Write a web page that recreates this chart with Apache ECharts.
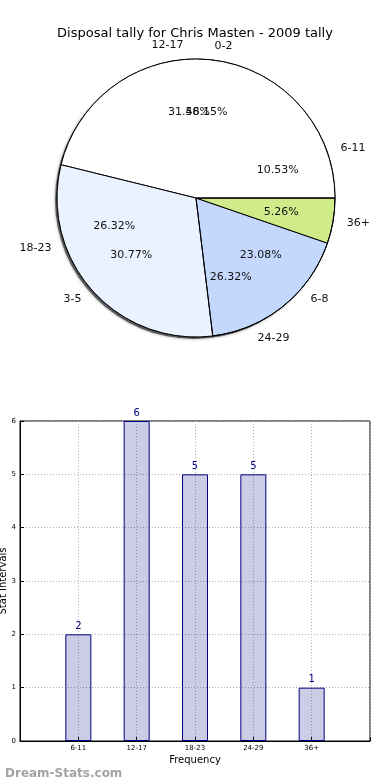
<!DOCTYPE html>
<html>
<head>
<meta charset="utf-8">
<script src="https://cdn.jsdelivr.net/npm/echarts@6/dist/echarts.min.js"></script>
<style>html,body{margin:0;padding:0;background:#fff}#c{width:390px;height:780px}</style>
</head>
<body>
<div id="c"></div>
<script>
// ---- data ----
const titleText = 'Disposal tally for Chris Masten - 2009 tally';
const statCategories = ['6-11', '12-17', '18-23', '24-29', '36+'];
const statCounts = [2, 6, 5, 5, 1];
const ageCategories = ['0-2', '3-5', '6-8'];
const ageCounts = [6, 4, 3];
const yTicks = [0, 1, 2, 3, 4, 5, 6];

// ---- styles ----
const FONT = 'DejaVu Sans';
const statColors = ['#ffffff', '#ffffff', '#c2d8ff', '#c4d8fd', '#d0eb8a'];
const ageColors = ['#ffffff', '#ebf2ff', 'rgba(255,255,255,0)'];
const C = [196, 198];
const R = 139;

const sum = a => a.reduce((s, v) => s + v, 0);
function pieData(names, vals, colors) {
  return names.map((n, i) => ({ name: n, value: vals[i], itemStyle: { color: colors[i] } }));
}
const nameLabel = { show: true, position: 'outside', formatter: '{b}', fontFamily: FONT, fontSize: 11, color: '#111', distanceToLabelLine: 0 };
const nameLine = { show: false, length: R * 0.1, length2: 0 };
const pctLabelSeries = (names, vals, z) => {
  const tot = sum(vals);
  return {
    type: 'pie', center: C, radius: [0, R * 1.2], startAngle: 0, clockwise: false, silent: true, z: z,
    avoidLabelOverlap: false,
    labelLayout: { hideOverlap: false },
    data: names.map((n, i) => ({ name: n, value: vals[i] })),
    itemStyle: { color: 'rgba(0,0,0,0)', borderWidth: 0 },
    label: { show: true, position: 'inside', formatter: p => (p.value / tot * 100).toFixed(2) + '%', fontFamily: FONT, fontSize: 11, color: '#111' },
    labelLine: { show: false },
    emphasis: { disabled: true }
  };
};

const chart = echarts.init(document.getElementById('c'), null, { renderer: 'canvas' });
chart.setOption({
  animation: false,
  backgroundColor: '#fff',
  title: [
    { text: titleText, left: 'center', top: 22, textStyle: { fontFamily: FONT, fontSize: 13, fontWeight: 'normal', color: '#000' } },
    { text: 'Dream-Stats.com', left: 0, top: 763, textStyle: { fontFamily: FONT, fontSize: 12, fontWeight: 'bold', color: '#a3a3a3' } }
  ],
  grid: { left: 20, right: 20, top: 421, bottom: 39, outerBoundsMode: 'none', containLabel: false, show: true, borderColor: '#000', borderWidth: 1, backgroundColor: 'transparent' },
  xAxis: {
    type: 'category', boundaryGap: false,
    data: [''].concat(statCategories, ['']),
    name: 'Frequency', nameLocation: 'middle', nameGap: 14, nameMoveOverlap: false,
    nameTextStyle: { fontFamily: FONT, fontSize: 10, color: '#000' },
    axisLine: { lineStyle: { color: '#000' } },
    axisTick: { inside: true, length: 4, lineStyle: { color: '#000' } },
    axisLabel: { fontFamily: FONT, fontSize: 7, color: '#000', margin: 4, interval: 0 },
    splitLine: { show: true, lineStyle: { color: '#b0b0b0', type: [1, 2] } }
  },
  yAxis: {
    type: 'value', min: yTicks[0], max: yTicks[yTicks.length - 1], interval: 1,
    name: 'Stat Intervals', nameLocation: 'middle', nameGap: 12, nameMoveOverlap: false,
    nameTextStyle: { fontFamily: FONT, fontSize: 10, color: '#000' },
    axisLine: { show: true, lineStyle: { color: '#000' } },
    axisTick: { show: true, inside: true, length: 4, lineStyle: { color: '#000' } },
    axisLabel: { fontFamily: FONT, fontSize: 7, color: '#000', margin: 4 },
    splitLine: { show: true, lineStyle: { color: '#b0b0b0', type: [1, 2] } }
  },
  series: [
    {
      type: 'bar', barWidth: 26,
      data: ['-'].concat(statCounts, ['-']),
      itemStyle: { color: 'rgba(0,0,128,0.2)', borderColor: '#000080', borderWidth: 1 },
      label: { show: true, position: 'top', distance: 3, fontFamily: FONT, fontSize: 10, color: '#000080' }
    },
    {
      // drop shadow behind the pies
      type: 'pie', center: [C[0] - 2, C[1] + 2], radius: [0, R], startAngle: 0, clockwise: false, z: 1, silent: true,
      data: [{ name: 'shadow', value: sum(statCounts) }],
      itemStyle: { color: 'rgba(60,60,60,0.75)', borderWidth: 0, shadowColor: 'rgba(0,0,0,0.5)', shadowBlur: 3 },
      label: { show: false }, labelLine: { show: false },
      emphasis: { disabled: true }
    },
    {
      type: 'pie', center: C, radius: [0, R], startAngle: 0, clockwise: false, z: 2,
      avoidLabelOverlap: false,
      labelLayout: { hideOverlap: false },
      data: pieData(statCategories, statCounts, statColors),
      itemStyle: { borderColor: '#000', borderWidth: 1 },
      label: nameLabel, labelLine: nameLine,
      emphasis: { disabled: true }
    },
    {
      type: 'pie', center: C, radius: [0, R], startAngle: 0, clockwise: false, z: 3,
      avoidLabelOverlap: false,
      labelLayout: { hideOverlap: false },
      data: pieData(ageCategories, ageCounts, ageColors),
      itemStyle: { borderColor: '#000', borderWidth: 1 },
      label: nameLabel, labelLine: nameLine,
      emphasis: { disabled: true }
    },
    pctLabelSeries(statCategories, statCounts, 4),
    pctLabelSeries(ageCategories, ageCounts, 5)
  ]
});
</script>
</body>
</html>
